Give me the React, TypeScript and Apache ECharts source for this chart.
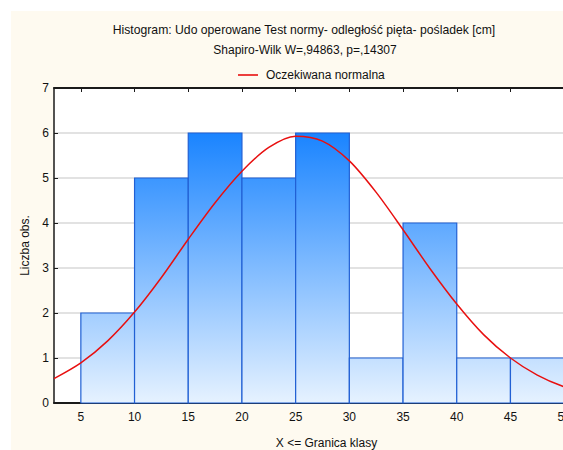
import React, { useEffect, useRef } from "react";
import * as echarts from "echarts";

const binStarts = [5, 10, 15, 20, 25, 30, 35, 40, 45];
const binEnds = [10, 15, 20, 25, 30, 35, 40, 45, 50];
const counts = [2, 5, 6, 5, 6, 1, 4, 1, 1];
const tickValues = [5, 10, 15, 20, 25, 30, 35, 40, 45, 50];
const curveX = [2.5, 5, 7.5, 10, 12.5, 15, 17.5, 20, 22.5, 25, 27.5, 30, 32.5, 35, 37.5, 40, 42.5, 45, 47.5, 50, 52.5];
const curveY = [0.54, 0.89, 1.38, 2.02, 2.79, 3.64, 4.45, 5.15, 5.68, 5.93, 5.82, 5.38, 4.68, 3.85, 2.99, 2.2, 1.52, 1.0, 0.62, 0.36, 0.2];

const titleLine1 = "Histogram: Udo operowane Test normy- odległość pięta- pośladek [cm]";
const titleLine2 = "Shapiro-Wilk W=,94863, p=,14307";
const seriesName = "Oczekiwana normalna";
const xName = "X <= Granica klasy";
const yName = "Liczba obs.";

const FONT = "'Liberation Sans', Arial, sans-serif";

export default function App() {
  const ref = useRef<HTMLDivElement>(null);
  useEffect(() => {
    if (!ref.current) return;
    const chart = echarts.init(ref.current, undefined, { renderer: "svg" });
    const histData = binStarts.map((s, i) => [s, binEnds[i], counts[i]]);
    const curveData = curveX.map((x, i) => [x, curveY[i]]);
    const option: any = {
      animation: false,
      backgroundColor: "#ffffff",
      textStyle: { fontFamily: FONT },
      graphic: [
        {
          type: "rect",
          z: -100,
          shape: { x: 11, y: 11, width: 600, height: 460 },
          style: { fill: "#fefaf0" },
          silent: true,
        },
        {
          type: "text",
          x: 304,
          y: 30,
          style: {
            text: titleLine1,
            fontSize: 12.2,
            fontFamily: FONT,
            fill: "#111",
            align: "center",
            verticalAlign: "middle",
          },
        },
        {
          type: "text",
          x: 305,
          y: 50,
          style: {
            text: titleLine2,
            fontSize: 12,
            fontFamily: FONT,
            fill: "#111",
            align: "center",
            verticalAlign: "middle",
          },
        },
      ],
      legend: {
        data: [{ name: seriesName, icon: "rect" }],
        left: 233,
        top: 64,
        itemWidth: 20,
        itemHeight: 1.6,
        itemGap: 6,
        textStyle: { fontSize: 12, color: "#111", fontFamily: FONT, padding: [0, 0, 0, 3] },
      },
      grid: {
        left: 54,
        top: 88,
        right: 9,
        bottom: 47,
        outerBoundsMode: "none",
        containLabel: false,
        show: true,
        backgroundColor: "#ffffff",
        borderWidth: 0,
      },
      xAxis: [
        {
          type: "value",
          position: "bottom",
          min: 2.5,
          max: 52.5,
          name: xName,
          nameLocation: "middle",
          nameGap: 34,
          nameTextStyle: { fontSize: 12, color: "#111", fontFamily: FONT, padding: [0, 0, 0, 8] },
          axisLine: { show: true, onZero: false, lineStyle: { color: "#1a1a1a", width: 2 } },
          axisTick: { show: true, inside: true, length: 4, customValues: tickValues, lineStyle: { color: "#1a1a1a" } },
          axisLabel: { customValues: tickValues, fontSize: 12, color: "#111", margin: 8, fontFamily: FONT },
          splitLine: { show: false },
        },
        {
          type: "value",
          position: "top",
          min: 2.5,
          max: 52.5,
          axisLine: { show: true, onZero: false, lineStyle: { color: "#1a1a1a", width: 2 } },
          axisTick: { show: true, inside: true, length: 4, customValues: tickValues, lineStyle: { color: "#1a1a1a" } },
          axisLabel: { show: false },
          splitLine: { show: false },
        },
      ],
      yAxis: {
        type: "value",
        min: 0,
        max: 7,
        interval: 1,
        name: yName,
        nameLocation: "middle",
        nameGap: 16,
        nameTextStyle: { fontSize: 12, color: "#111", fontFamily: FONT },
        axisLine: { show: true, lineStyle: { color: "#1a1a1a", width: 1.5 } },
        axisTick: { show: true, inside: true, length: 4, lineStyle: { color: "#1a1a1a" } },
        axisLabel: { fontSize: 12, color: "#111", margin: 5, fontFamily: FONT },
        splitLine: { show: true, lineStyle: { color: "#d9d9d9", width: 1.5 } },
      },
      series: [
        {
          type: "custom",
          name: "hist",
          xAxisIndex: 0,
          yAxisIndex: 0,
          data: histData,
          encode: { x: [0, 1], y: 2 },
          renderItem: (params: any, api: any) => {
            const p0 = api.coord([api.value(0), api.value(2)]);
            const p1 = api.coord([api.value(1), 0]);
            const top = api.coord([0, 6]);
            const bottom = api.coord([0, 0]);
            return {
              type: "rect",
              shape: { x: p0[0], y: p0[1], width: p1[0] - p0[0], height: p1[1] - p0[1] },
              style: {
                fill: new echarts.graphic.LinearGradient(
                  0,
                  top[1],
                  0,
                  bottom[1],
                  [
                    { offset: 0, color: "#1a84ff" },
                    { offset: 1, color: "#e6f2ff" },
                  ],
                  true
                ),
                stroke: "#2160d4",
                lineWidth: 1.2,
              },
            };
          },
          z: 2,
        },
        {
          type: "line",
          name: seriesName,
          xAxisIndex: 0,
          yAxisIndex: 0,
          data: curveData,
          smooth: 0.3,
          showSymbol: false,
          symbol: "none",
          clip: true,
          lineStyle: { color: "#e81010", width: 1.5 },
          itemStyle: { color: "#e81010" },
          z: 3,
        },
      ],
    };
    chart.setOption(option);
    return () => chart.dispose();
  }, []);
  return (
    <div style={{ position: "absolute", left: 0, top: 0, width: 563, height: 450, overflow: "hidden" }}>
      <div ref={ref} style={{ width: 600, height: 450 }} />
    </div>
  );
}
